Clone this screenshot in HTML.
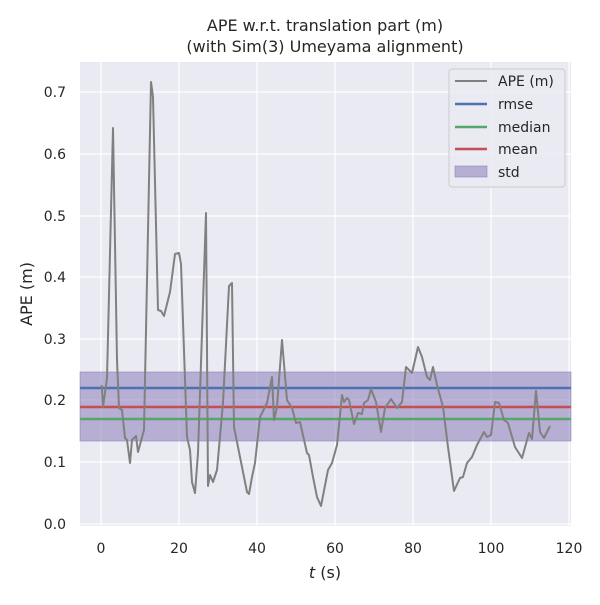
<!DOCTYPE html>
<html><head><meta charset="utf-8"><style>body{margin:0;background:#fff}</style></head><body>
<svg width="600" height="600" xmlns="http://www.w3.org/2000/svg" font-family="'DejaVu Sans','Liberation Sans',sans-serif">
<rect x="0" y="0" width="600" height="600" fill="#fff"/>
<rect x="80" y="62" width="491" height="464" fill="#eaeaf2"/>
<g stroke="#fff" stroke-width="1.2">
<line x1="101" y1="62" x2="101" y2="526"/><line x1="179" y1="62" x2="179" y2="526"/><line x1="257" y1="62" x2="257" y2="526"/><line x1="335" y1="62" x2="335" y2="526"/><line x1="413" y1="62" x2="413" y2="526"/><line x1="491" y1="62" x2="491" y2="526"/><line x1="569" y1="62" x2="569" y2="526"/>
<line x1="80" y1="524" x2="571" y2="524"/><line x1="80" y1="462" x2="571" y2="462"/><line x1="80" y1="400" x2="571" y2="400"/><line x1="80" y1="339" x2="571" y2="339"/><line x1="80" y1="277" x2="571" y2="277"/><line x1="80" y1="216" x2="571" y2="216"/><line x1="80" y1="154" x2="571" y2="154"/><line x1="80" y1="92" x2="571" y2="92"/>
</g>
<rect x="80" y="372" width="491" height="69" fill="#8172b3" fill-opacity="0.5" stroke="#8172b3" stroke-opacity="0.5"/>
<line x1="80" y1="388" x2="571" y2="388" stroke="#4c72b0" stroke-width="2.5"/>
<line x1="80" y1="419" x2="571" y2="419" stroke="#55a868" stroke-width="2.5"/>
<line x1="80" y1="407" x2="571" y2="407" stroke="#c44e52" stroke-width="2.5"/>
<polyline fill="none" stroke="#808080" stroke-width="2" stroke-linejoin="round" points="101.7,385 103,407 107,378 113,128 117,360 119,408 122,410 125,438 127,440 130,463 132,440 136,436 138,452 144,430 151,82 153,97 158,310 161,311 164,316 170,292 175,254 179,253 181,264 187,437 190,450 192,482 195,493 198,453 206,213 208,486 210,475 213,482 217,470 223,403 229,286 232,283 234,427 240,457 247,492 249,494 252,477 255,463 260,417 267,403 272,377 274,420 277,407 282,340 287,400 292,408 296,423 300,422 307,453 309,455 313,477 317,497 321,506 328,470 332,463 337,445 342,395 344,402 347,398 349,400 354,424 358,413 362,414 364,403 368,400 371,389 376,402 381,432 385,408 391,399 397,408 402,402 406,367 412,373 418,347 422,357 427,377 430,380 433,367 437,385 443,407 448,447 454,491 460,478 463,477 467,463 472,457 477,445 484,432 487,437 491,435 495,402 499,403 504,420 508,423 515,447 522,458 529,433 532,439 536,391 540,432 544,438 550,426"/>
<g font-size="14" fill="#262626">
<g text-anchor="end"><text x="66" y="529">0.0</text><text x="66" y="467">0.1</text><text x="66" y="405">0.2</text><text x="66" y="344">0.3</text><text x="66" y="282">0.4</text><text x="66" y="221">0.5</text><text x="66" y="159">0.6</text><text x="66" y="97">0.7</text></g>
<g text-anchor="middle"><text x="101" y="553">0</text><text x="179" y="553">20</text><text x="257" y="553">40</text><text x="335" y="553">60</text><text x="413" y="553">80</text><text x="491" y="553">100</text><text x="569" y="553">120</text></g>
</g>
<text x="325" y="578" text-anchor="middle" font-size="16" fill="#262626"><tspan font-style="italic">t</tspan> (s)</text>
<text transform="translate(32,294) rotate(-90)" text-anchor="middle" font-size="16" fill="#262626">APE (m)</text>
<text x="325" y="31" text-anchor="middle" font-size="16" fill="#262626">APE w.r.t. translation part (m)</text>
<text x="325" y="52" text-anchor="middle" font-size="16" fill="#262626">(with Sim(3) Umeyama alignment)</text>
<rect x="449" y="69" width="116" height="118" rx="3" fill="#eaeaf2" fill-opacity="0.8" stroke="#ccc"/>
<g font-size="14" fill="#262626">
<line x1="455" y1="81" x2="487" y2="81" stroke="#808080" stroke-width="2"/><text x="498" y="86">APE (m)</text>
<line x1="455" y1="104" x2="487" y2="104" stroke="#4c72b0" stroke-width="2.5"/><text x="498" y="109">rmse</text>
<line x1="455" y1="127" x2="487" y2="127" stroke="#55a868" stroke-width="2.5"/><text x="498" y="132">median</text>
<line x1="455" y1="149" x2="487" y2="149" stroke="#c44e52" stroke-width="2.5"/><text x="498" y="154">mean</text>
<rect x="455" y="166" width="32" height="11" fill="#8172b3" fill-opacity="0.5" stroke="#8172b3" stroke-opacity="0.5"/><text x="498" y="177">std</text>
</g>
</svg>
</body></html>
